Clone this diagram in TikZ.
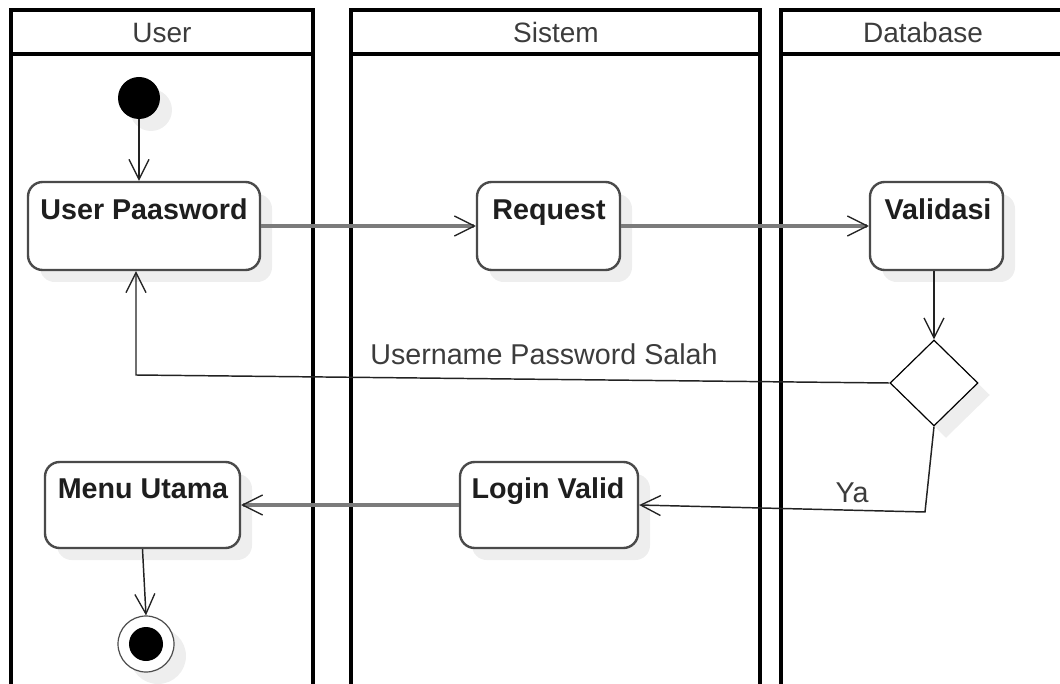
\documentclass[tikz,border=0pt]{standalone}
\usepackage{fontspec}
\setmainfont{Liberation Sans}
\usetikzlibrary{arrows.meta,shapes.geometric,shadows,fit}

\definecolor{laneline}{HTML}{000000}
\definecolor{boxline}{HTML}{4A4A4A}
\definecolor{flowgray}{HTML}{7B7B7B}
\definecolor{flowdark}{HTML}{222222}
\definecolor{shadowc}{HTML}{EEEEEE}
\definecolor{hdrtext}{HTML}{3C3C3C}
\definecolor{acttext}{HTML}{1E1E1E}

\tikzset{
  lane/.style={draw=laneline, line width=2.3pt, line join=miter},
  softshadow/.style={drop shadow={shadow xshift=9pt, shadow yshift=-9pt, fill=shadowc, opacity=1}},
  actbox/.style={draw=boxline, line width=1.8pt, rounded corners=11pt, fill=white,
                 inner sep=0pt, softshadow},
  acttitle/.style={anchor=base, text=acttext, font=\fontsize{21.5pt}{25pt}\selectfont\bfseries, inner sep=0pt},
  hdr/.style={anchor=base, text=hdrtext, font=\fontsize{21pt}{25pt}\selectfont, inner sep=0pt},
  flowlabel/.style={anchor=base, text=hdrtext, font=\fontsize{21.5pt}{25pt}\selectfont, inner sep=0pt},
  barb/.style={-{Straight Barb[length=15pt, width=15pt, line width=1pt, color=flowdark]}},
  mainflow/.style={barb, draw=flowgray, line width=2.6pt},
  thinflow/.style={barb, draw=flowdark, line width=1.1pt},
}

\begin{document}
\begin{tikzpicture}[x=0.75pt, y=-0.75pt]
\useasboundingbox (0,0) rectangle (1060,684);

% swimlanes
\draw[lane] (11,700) -- (11,10) -- (313,10) -- (313,700);
\draw[lane] (11,54) -- (313,54);
\draw[lane] (351,700) -- (351,10) -- (760,10) -- (760,700);
\draw[lane] (351,54) -- (760,54);
\draw[lane] (781,700) -- (781,10) -- (1070,10);
\draw[lane] (781,54) -- (1070,54);

\node[hdr] (hUser) at (162,43) {User};
\node[hdr] (hSistem) at (556,43) {Sistem};
\node[hdr] (hDb) at (923,43) {Database};

% initial node
\node[circle, fill=black, minimum size=31.5pt, inner sep=0pt, softshadow] (start) at (139,98) {};

% activities
\node[actbox, fit={(28,182) (260,270)}] (up) {};
\node[acttitle] (upT) at (144,220) {User Paasword};

\node[actbox, fit={(477,182) (620,270)}] (req) {};
\node[acttitle] (reqT) at (549,220) {Request};

\node[actbox, fit={(870,182) (1003,270)}] (val) {};
\node[acttitle] (valT) at (938,220) {Validasi};

\node[actbox, fit={(460,462) (638,548)}] (login) {};
\node[acttitle] (loginT) at (548,498) {Login Valid};

\node[actbox, fit={(45,462) (240,548)}] (menu) {};
\node[acttitle] (menuT) at (143,498) {Menu Utama};

% decision
\node[diamond, draw=black, line width=0.9pt, fill=white, aspect=1,
      minimum width=66pt, minimum height=64.5pt, inner sep=0pt, softshadow] (dec) at (934,383) {};

% final node
\node[circle, draw=gray!60!black, line width=0.9pt, fill=white, minimum size=42pt,
      inner sep=0pt, softshadow] (final) at (146,644) {};
\node[circle, fill=black, minimum size=25.5pt, inner sep=0pt] (finalIn) at (final.center) {};

% bend points
\coordinate (c1) at (136,375);
\coordinate (c2) at (925,512);

% flows
\draw[thinflow] (start) -- (up.north -| start);
\draw[mainflow] (up) -- (req);
\draw[mainflow] (req) -- (val);
\draw[thinflow] (val.south -| dec.north) -- (dec.north);
\draw[thinflow] (dec.west) -- (c1) -- (c1 |- up.south);
\draw[thinflow] (dec.south) -- (c2) -- (login.east);
\draw[mainflow] (login) -- (menu);
\draw[thinflow] (menu.south) -- (final.north);

\node[flowlabel] (lSalah) at (544,364) {Username Password Salah};
\node[flowlabel] (lYa) at (852,502) {Ya};
\end{tikzpicture}
\end{document}
